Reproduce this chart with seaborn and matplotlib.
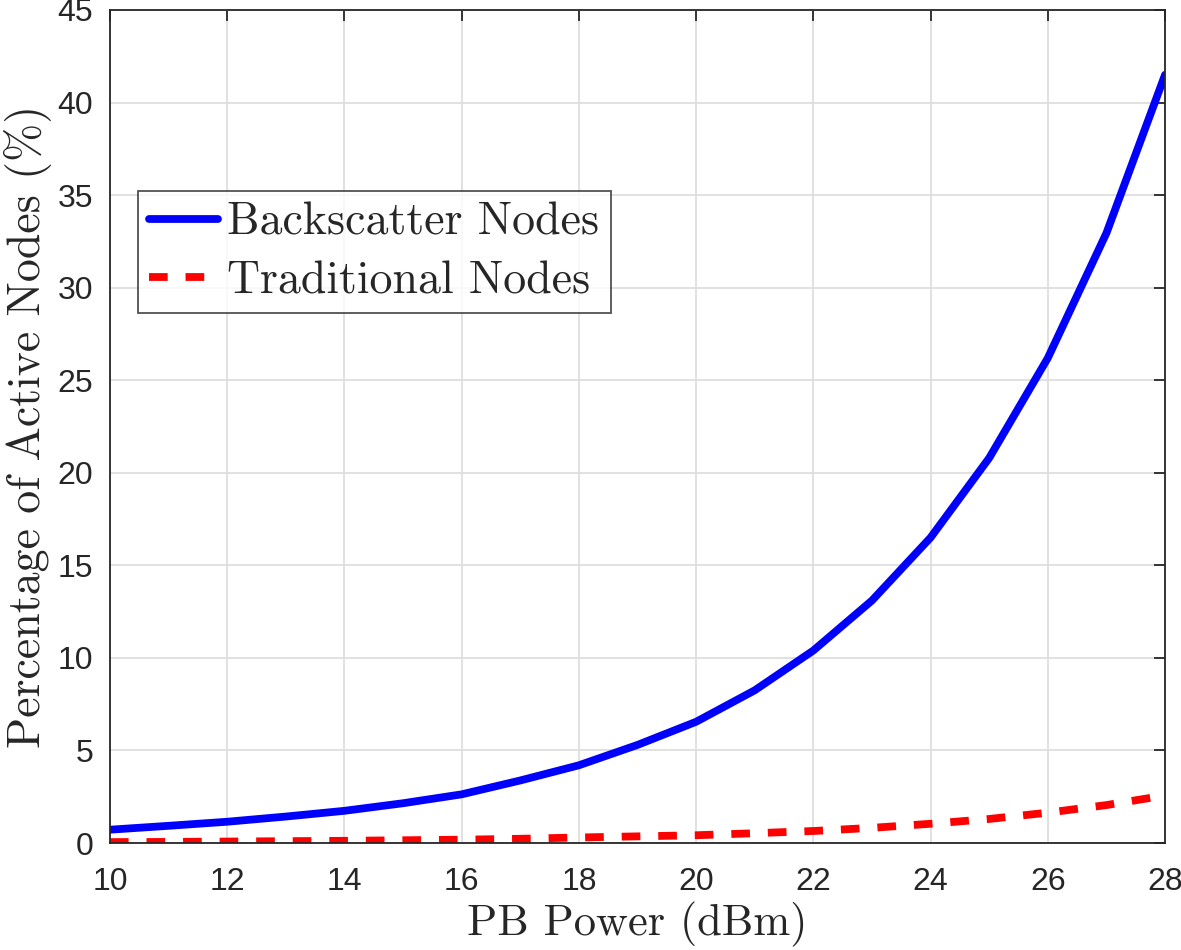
import pandas as pd
import matplotlib
matplotlib.use("Agg")
import matplotlib.pyplot as plt
import seaborn as sns

# Data
pb_power = list(range(10, 29))
backscatter = [0.72, 0.93, 1.15, 1.43, 1.74, 2.15, 2.63, 3.38, 4.2, 5.3, 6.55,
               8.25, 10.4, 13.1, 16.5, 20.8, 26.2, 32.95, 41.5]
traditional = [0.05, 0.06, 0.08, 0.1, 0.12, 0.15, 0.18, 0.23, 0.3, 0.36, 0.42,
               0.53, 0.65, 0.82, 1.04, 1.3, 1.64, 2.05, 2.57]
series_names = ["Backscatter Nodes", "Traditional Nodes"]


def build_frame():
    """Long-form table for seaborn."""
    a = pd.DataFrame({"x": pb_power, "y": backscatter, "Series": series_names[0]})
    b = pd.DataFrame({"x": pb_power, "y": traditional, "Series": series_names[1]})
    return pd.concat([a, b], ignore_index=True)


def plot_chart(df):
    sns.set_style("white")
    plt.rcParams["font.family"] = ["Liberation Sans", "DejaVu Sans"]
    serif = "cmr10"

    fig = plt.figure(figsize=(11.81, 9.5), dpi=100)
    ax = fig.add_axes([0.0931, 0.1126, 0.8934, 0.8769])

    sns.lineplot(data=df, x="x", y="y", hue="Series", style="Series",
                 palette=["#0000ff", "#ff0000"], dashes=[(None, None), (2.4, 2.3)],
                 linewidth=5.6, ax=ax)

    ax.set_xlim(10, 28)
    ax.set_ylim(0, 45)
    ax.set_xticks(range(10, 29, 2))
    ax.set_yticks(range(0, 46, 5))
    ax.grid(True, color="#dedede", linewidth=1.3)
    ax.set_axisbelow(True)
    for s in ax.spines.values():
        s.set_visible(True)
        s.set_color("#262626")
        s.set_linewidth(1.3)
    ax.tick_params(direction="in", length=8, width=1.3, top=True, right=True,
                   labelsize=23, colors="#262626", pad=12)
    ax.tick_params(axis="x", pad=17)

    ax.set_xlabel("PB Power (dBm)", fontsize=32, family=serif, labelpad=4)
    ax.set_ylabel("Percentage of Active Nodes (%)", fontsize=33, family=serif, labelpad=4)

    handles, labels = ax.get_legend_handles_labels()
    leg = ax.legend(handles, labels, loc="upper left", bbox_to_anchor=(0.0265, 0.783),
                    borderaxespad=0, prop={"family": serif, "size": 33},
                    frameon=True, fancybox=False, edgecolor="#262626",
                    handlelength=1.5, handletextpad=0.2, borderpad=0.25,
                    labelspacing=0.36)
    leg.get_frame().set_linewidth(1.3)

    fig.savefig("out.png", dpi=100)


if __name__ == "__main__":
    df = build_frame()
    plot_chart(df)
